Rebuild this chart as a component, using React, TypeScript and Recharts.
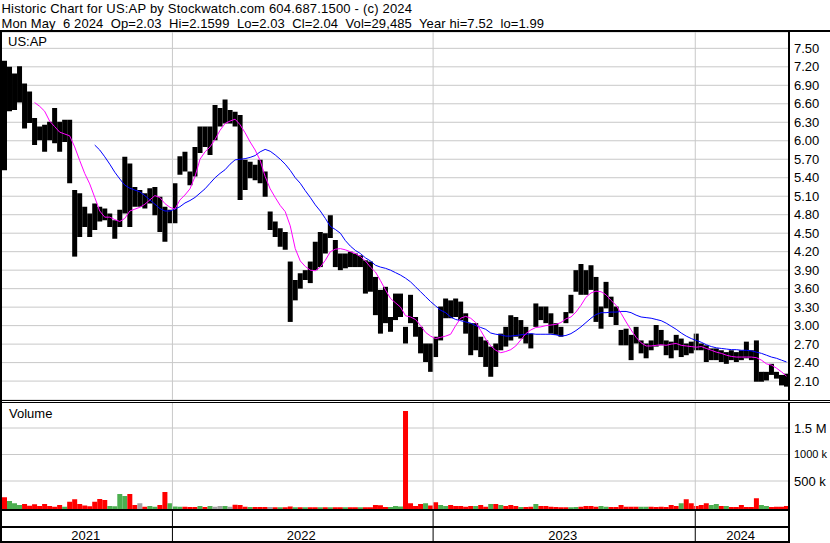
import React from 'react';
import {
  ComposedChart,
  Bar,
  Line,
  XAxis,
  YAxis,
  CartesianGrid,
  ReferenceLine,
  Cell,
} from 'recharts';

// Weekly bars, mid-May 2021 .. May 6 2024 (157 weeks).
const PRICE_HIGH = [
  7.30, 7.20, 7.09, 7.21, 6.93, 6.80, 6.37, 6.23, 6.26, 6.31,
  6.53, 6.31, 6.34, 6.34, 5.20, 5.15, 4.93, 4.82, 4.98, 4.93,
  4.90, 4.82, 4.71, 4.88, 5.74, 5.63, 5.25, 5.20, 5.15, 5.23,
  5.25, 5.09, 4.93, 4.88, 5.31, 5.75, 5.82, 5.50, 5.90, 6.23,
  6.23, 6.23, 6.58, 6.53, 6.67, 6.50, 6.47, 6.42, 5.69, 5.66,
  5.61, 5.69, 5.50, 4.85, 4.69, 4.58, 4.52, 4.04, 3.74, 3.85,
  3.90, 4.04, 4.36, 4.52, 4.50, 4.79, 4.39, 4.17, 4.17, 4.20,
  4.17, 4.14, 4.06, 4.04, 3.79, 3.58, 3.63, 3.14, 3.52, 3.52,
  2.98, 3.50, 3.14, 2.98, 2.71, 2.71, 2.82, 3.31, 3.44, 3.41,
  3.44, 3.39, 3.20, 3.04, 3.04, 2.82, 2.76, 2.66, 2.71, 2.87,
  2.98, 3.17, 3.14, 3.09, 2.98, 2.87, 3.36, 3.31, 3.31, 3.20,
  3.04, 2.98, 3.22, 3.50, 3.90, 4.00, 3.90, 3.98, 3.79, 3.31,
  3.71, 3.47, 3.31, 2.93, 2.95, 2.85, 2.98, 2.76, 2.71, 2.76,
  3.01, 2.93, 2.76, 2.74, 2.85, 2.79, 2.71, 2.74, 2.87, 2.71,
  2.68, 2.63, 2.63, 2.60, 2.57, 2.60, 2.57, 2.60, 2.74, 2.60,
  2.76, 2.25, 2.25, 2.38, 2.25, 2.20, 2.22,
];

const PRICE_LOW = [
  5.52, 6.48, 6.50, 6.62, 6.20, 6.29, 5.93, 6.01, 5.82, 6.01,
  5.96, 5.82, 5.98, 5.31, 4.12, 4.44, 4.60, 4.44, 4.55, 4.69,
  4.71, 4.60, 4.41, 4.60, 4.82, 4.60, 4.93, 4.93, 4.90, 4.98,
  4.79, 4.52, 4.36, 4.66, 4.66, 5.45, 5.50, 5.28, 5.42, 5.80,
  5.90, 5.77, 6.01, 6.23, 6.28, 6.28, 6.23, 5.04, 5.20, 5.39,
  5.36, 5.31, 5.09, 4.55, 4.44, 4.28, 4.23, 3.06, 3.41, 3.60,
  3.74, 3.69, 3.90, 3.95, 4.17, 4.42, 3.95, 3.90, 3.93, 3.95,
  3.95, 3.95, 3.52, 3.55, 3.17, 2.87, 3.04, 2.90, 3.09, 3.14,
  2.71, 3.04, 2.82, 2.55, 2.41, 2.25, 2.49, 2.76, 3.12, 3.12,
  3.14, 3.09, 2.87, 2.52, 2.60, 2.49, 2.33, 2.17, 2.33, 2.60,
  2.66, 2.76, 2.82, 2.79, 2.71, 2.63, 2.98, 3.09, 3.04, 2.87,
  2.85, 2.82, 3.04, 3.20, 3.55, 3.50, 3.50, 3.58, 3.06, 2.95,
  3.28, 3.14, 3.01, 2.68, 2.68, 2.44, 2.71, 2.55, 2.47, 2.60,
  2.66, 2.68, 2.52, 2.47, 2.60, 2.49, 2.52, 2.55, 2.60, 2.60,
  2.41, 2.44, 2.44, 2.41, 2.38, 2.44, 2.41, 2.44, 2.47, 2.44,
  2.09, 2.09, 2.11, 2.20, 2.14, 2.03, 2.01,
];

// short moving average (magenta), begins at week 6
const MA_FAST = [
  null, null, null, null, null, null, 6.62, 6.56, 6.48, 6.32,
  6.23, 6.14, 6.11, 6.08, 5.90, 5.68, 5.47, 5.30, 5.08, 4.86,
  4.76, 4.76, 4.72, 4.69, 4.74, 4.86, 4.89, 4.92, 4.97, 5.04,
  5.11, 5.08, 4.98, 4.92, 4.89, 5.04, 5.12, 5.22, 5.42, 5.70,
  5.82, 5.90, 6.02, 6.17, 6.28, 6.32, 6.35, 6.26, 6.13, 5.98,
  5.85, 5.68, 5.42, 5.22, 5.08, 4.95, 4.85, 4.62, 4.25, 4.05,
  3.96, 3.90, 3.89, 3.95, 4.06, 4.20, 4.24, 4.25, 4.23, 4.20,
  4.17, 4.12, 4.05, 3.95, 3.87, 3.73, 3.58, 3.44, 3.37, 3.30,
  3.16, 3.14, 3.10, 3.00, 2.89, 2.83, 2.79, 2.81, 2.83, 2.86,
  3.00, 3.12, 3.15, 3.12, 3.05, 2.92, 2.78, 2.67, 2.60, 2.56,
  2.58, 2.61, 2.67, 2.77, 2.87, 2.93, 2.97, 2.98, 3.00, 3.01,
  3.02, 3.05, 3.11, 3.14, 3.22, 3.33, 3.46, 3.53, 3.56, 3.55,
  3.50, 3.41, 3.33, 3.20, 3.06, 2.93, 2.81, 2.72, 2.67, 2.67,
  2.68, 2.69, 2.68, 2.70, 2.71, 2.68, 2.67, 2.66, 2.65, 2.66,
  2.63, 2.60, 2.57, 2.55, 2.52, 2.50, 2.49, 2.49, 2.49, 2.49,
  2.48, 2.44, 2.38, 2.36, 2.31, 2.25, 2.18,
];

// long moving average (blue), begins at week 18
const MA_SLOW = [
  null, null, null, null, null, null, null, null, null, null,
  null, null, null, null, null, null, null, null, 5.93, 5.85,
  5.74, 5.62, 5.49, 5.38, 5.28, 5.23, 5.20, 5.17, 5.11, 5.04,
  4.97, 4.90, 4.86, 4.86, 4.89, 4.93, 4.99, 5.03, 5.08, 5.15,
  5.22, 5.31, 5.40, 5.47, 5.53, 5.62, 5.69, 5.70, 5.71, 5.73,
  5.76, 5.82, 5.86, 5.83, 5.77, 5.70, 5.62, 5.52, 5.40, 5.31,
  5.19, 5.08, 4.96, 4.86, 4.74, 4.61, 4.56, 4.50, 4.38, 4.29,
  4.22, 4.17, 4.10, 4.05, 3.98, 3.95, 3.93, 3.90, 3.86, 3.82,
  3.77, 3.71, 3.63, 3.55, 3.47, 3.39, 3.32, 3.25, 3.21, 3.14,
  3.10, 3.08, 3.06, 3.04, 3.00, 2.97, 2.94, 2.88, 2.86, 2.85,
  2.83, 2.83, 2.84, 2.85, 2.86, 2.87, 2.86, 2.86, 2.86, 2.86,
  2.85, 2.83, 2.84, 2.87, 2.92, 2.98, 3.05, 3.12, 3.18, 3.21,
  3.21, 3.22, 3.22, 3.23, 3.23, 3.21, 3.17, 3.14, 3.13, 3.12,
  3.10, 3.08, 3.04, 2.99, 2.94, 2.88, 2.83, 2.79, 2.76, 2.73,
  2.69, 2.66, 2.64, 2.63, 2.62, 2.61, 2.61, 2.60, 2.60, 2.59,
  2.57, 2.55, 2.52, 2.49, 2.47, 2.44, 2.41,
];

// volume, thousands of shares
const VOLUME_K = [
  192, 123, 79, 47, 66, 35, 60, 28, 66, 28,
  16, 47, 16, 110, 154, 66, 40, 25, 110, 160,
  142, 28, 22, 255, 217, 255, 47, 79, 16, 28,
  16, 47, 292, 79, 20, 12, 16, 8, 8, 28,
  8, 28, 16, 28, 28, 16, 54, 47, 16, 8,
  8, 8, 8, 8, 5, 6, 5, 20, 6, 5,
  6, 5, 6, 5, 6, 5, 6, 5, 6, 5,
  6, 5, 6, 5, 47, 41, 8, 8, 28, 20,
  1820, 79, 28, 66, 79, 40, 97, 47, 28, 47,
  28, 28, 16, 28, 28, 47, 16, 66, 66, 47,
  28, 47, 28, 8, 8, 16, 66, 28, 28, 16,
  8, 5, 5, 5, 8, 16, 28, 28, 16, 28,
  16, 8, 8, 47, 16, 16, 16, 16, 16, 12,
  8, 12, 8, 47, 28, 79, 154, 79, 28, 47,
  79, 47, 66, 28, 28, 8, 8, 47, 8, 8,
  173, 47, 28, 8, 16, 16, 28,
];

// d = down, u = up, n = unchanged
const VOLUME_DIR = [
  'duuudddddd', 'dduddddddd', 'duuuuddndu', 'udduuudddu', 'dunnundddu',
  'dddnduddud', 'uddududdud', 'duddddduuu', 'ddddudduud', 'dddduddudu',
  'dddudduddd', 'ddduuddddu', 'udddddduud', 'dddddudddd', 'duududdddd',
  'duudddd',
].join('');

const YEAR_LABELS = ['2021', '2022', '2023', '2024'];
const YEAR_EDGES = [0, 34, 86, 138.3, 157];

const PRICE_TICKS = [2.1, 2.4, 2.7, 3.0, 3.3, 3.6, 3.9, 4.2, 4.5, 4.8, 5.1, 5.4, 5.7, 6.0, 6.3, 6.6, 6.9, 7.2, 7.5];
const VOLUME_TICKS = [500000, 1000000, 1500000];

const TITLE = 'Historic Chart for US:AP by Stockwatch.com 604.687.1500 - (c) 2024';
const QUOTE = 'Mon May  6 2024  Op=2.03  Hi=2.1599  Lo=2.03  Cl=2.04  Vol=29,485  Year hi=7.52  lo=1.99';

const WEEKS = PRICE_HIGH.length;
const PRICE_DOMAIN = [1.793, 7.765];
const VOLUME_DOMAIN = [-28300, 1990600];

const FONT = '"Liberation Sans", Arial, Helvetica, sans-serif';
const GRID = '#c8c8c8';
const DIR_COLORS: Record<string, string> = { d: '#ff0000', u: '#4caf50', n: '#a0a0a0' };
const TICK = { fontSize: 13, fill: '#000', fontFamily: FONT };
const MARGIN = { top: 0, right: 2, bottom: 0, left: 2 };
const AXIS_W = 39;
const STRIP_H = 34;

const YEAR_BREAKS = YEAR_EDGES.slice(1, -1);
const YEAR_MIDS = YEAR_LABELS.map((_, i) => (YEAR_EDGES[i] + YEAR_EDGES[i + 1]) / 2);
const YEAR_TICKS = [...YEAR_BREAKS, ...YEAR_MIDS].sort((a, b) => a - b);

const rows = PRICE_HIGH.map((hi, i) => ({
  t: i + 0.5,
  range: [PRICE_LOW[i], hi],
  fast: MA_FAST[i],
  slow: MA_SLOW[i],
  vol: [VOLUME_DOMAIN[0], VOLUME_K[i] * 1000],
  dir: VOLUME_DIR[i],
}));

const formatPrice = (v: number) => v.toFixed(2);
const formatVolume = (v: number) => (v > 1000000 ? `${v / 1000000} M` : `${v / 1000} k`);

// Right-hand axis labels as plain text; the widest one gets a smaller size to fit the page.
function AxisLabel({ x, y, payload, format }: any) {
  const text = format(payload.value);
  const size = text.length > 5 ? 11 : 13;
  return (
    <text x={x} y={y} dy="0.355em" textAnchor="start" {...TICK} fontSize={size}>
      {text}
    </text>
  );
}

// Year strip under the volume panel: dividers at year breaks, labels centred in each year.
function YearTick({ x, y, payload }: any) {
  const i = YEAR_MIDS.indexOf(payload.value);
  if (i < 0) {
    return <line x1={x} x2={x} y1={y} y2={y + STRIP_H} stroke="#000" strokeWidth={1} />;
  }
  return (
    <text x={x - 1.5} y={y + 30.5} textAnchor="middle" {...TICK}>
      {YEAR_LABELS[i]}
    </text>
  );
}

const yearLines = YEAR_BREAKS.map((x) => (
  <ReferenceLine key={x} x={x} stroke={GRID} strokeWidth={1} />
));

const block = (top: number, height: number, left = 0, width = 830): React.CSSProperties => ({
  position: 'absolute',
  top,
  left,
  width,
  height,
  background: '#000',
});

const textAt = (top: number, left: number): React.CSSProperties => ({
  position: 'absolute',
  top,
  left,
  fontSize: 13,
  lineHeight: '15px',
  whiteSpace: 'pre',
  color: '#000',
});

export default function App() {
  return (
    <div
      style={{
        position: 'absolute',
        left: 0,
        top: 0,
        width: 830,
        height: 543,
        background: '#fff',
        overflow: 'hidden',
        fontFamily: FONT,
      }}
    >
      <svg width={830} height={30} style={{ position: 'absolute', left: 0, top: 0 }}>
        <text x={1.5} y={13.3} textLength={410.5} lengthAdjust="spacing" style={{ whiteSpace: 'pre' }} {...TICK}>
          {TITLE}
        </text>
        <text x={1.5} y={28.3} textLength={542.5} lengthAdjust="spacing" style={{ whiteSpace: 'pre' }} {...TICK}>
          {QUOTE}
        </text>
      </svg>

      {/* price panel */}
      <div style={{ position: 'absolute', top: 32, left: 0 }}>
        <ComposedChart width={830} height={368} data={rows} margin={MARGIN}>
          <CartesianGrid stroke={GRID} vertical={false} />
          <XAxis dataKey="t" type="number" domain={[0, WEEKS]} hide />
          <YAxis
            orientation="right"
            type="number"
            width={AXIS_W}
            domain={PRICE_DOMAIN}
            allowDataOverflow
            ticks={PRICE_TICKS}
            interval={0}
            tick={<AxisLabel format={formatPrice} />}
            tickLine={false}
            tickSize={3}
            tickMargin={2}
            axisLine={{ stroke: '#000', strokeWidth: 2 }}
          />
          {yearLines}
          <Bar dataKey="range" barSize={5} fill="#000" isAnimationActive={false} />
          <Line dataKey="slow" stroke="#0000ff" strokeWidth={1} dot={false} isAnimationActive={false} />
          <Line dataKey="fast" stroke="#ff00ff" strokeWidth={1} dot={false} isAnimationActive={false} />
        </ComposedChart>
      </div>
      <div style={textAt(34, 8)}>US:AP</div>

      {/* volume panel with the year strip below it */}
      <div style={{ position: 'absolute', top: 402, left: 0 }}>
        <ComposedChart width={830} height={107 + STRIP_H} data={rows} margin={MARGIN}>
          <CartesianGrid stroke={GRID} vertical={false} />
          <XAxis
            dataKey="t"
            type="number"
            domain={[0, WEEKS]}
            height={STRIP_H}
            ticks={YEAR_TICKS}
            interval={0}
            axisLine={false}
            tickLine={false}
            tickSize={0}
            tickMargin={0}
            tick={<YearTick />}
          />
          <YAxis
            orientation="right"
            type="number"
            width={AXIS_W}
            domain={VOLUME_DOMAIN}
            allowDataOverflow
            ticks={VOLUME_TICKS}
            interval={0}
            tick={<AxisLabel format={formatVolume} />}
            tickLine={false}
            tickSize={3}
            tickMargin={2}
            axisLine={{ stroke: '#000', strokeWidth: 2 }}
          />
          {yearLines}
          <Bar dataKey="vol" barSize={5} isAnimationActive={false}>
            {rows.map((r) => (
              <Cell key={r.t} fill={DIR_COLORS[r.dir]} />
            ))}
          </Bar>
        </ComposedChart>
      </div>
      <div style={textAt(406, 9)}>Volume</div>

      {/* panel frame */}
      <div style={block(30, 2)} />
      <div style={block(30, 513, 0, 2)} />
      <div style={block(400, 1)} />
      <div style={block(402, 1)} />
      <div style={block(509, 2, 0, 790)} />
      <div style={block(526, 2, 0, 790)} />
      <div style={block(541, 2, 0, 790)} />
      <div style={block(509, 34, 788, 2)} />
    </div>
  );
}
